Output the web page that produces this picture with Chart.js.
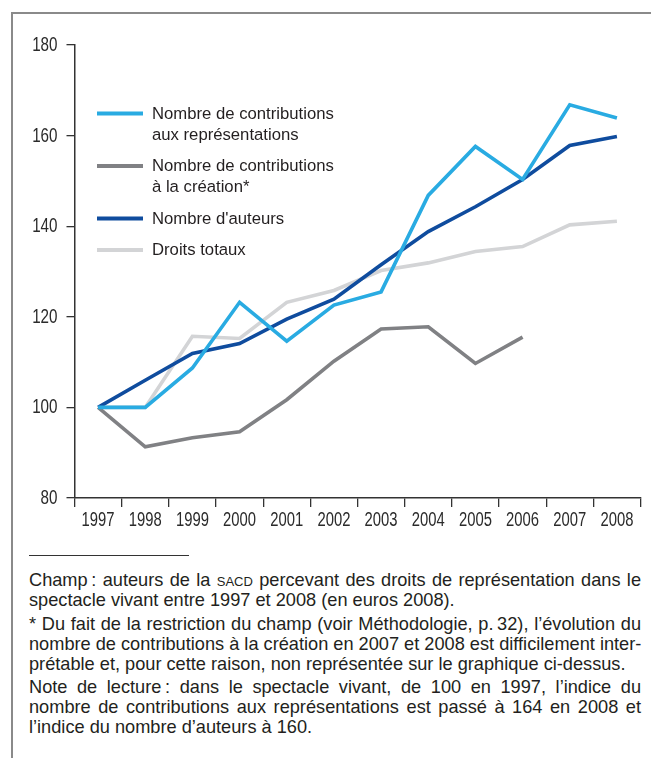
<!DOCTYPE html>
<html lang="fr">
<head>
<meta charset="utf-8">
<script src="https://cdn.jsdelivr.net/npm/chart.js@4/dist/chart.umd.min.js"></script>
<style>
    body { margin: 0; background: #fff; }
    #page { position: relative; width: 651px; height: 758px; overflow: hidden; background: #fff; }
    #frameLeft { position: absolute; left: 11px; top: 12px; width: 2px; height: 746px; background: #8a8a8a; }
    #frameTop { position: absolute; left: 11px; top: 12px; width: 640px; height: 2px; background: #8a8a8a; }
    #chartCanvas { position: absolute; left: 0; top: 0; }
    #rule { position: absolute; left: 29px; top: 555px; width: 160px; height: 1px; background: #333; }
    #notes { position: absolute; left: 29px; top: 570px; width: 612px;
             font-family: 'Liberation Sans', Arial, Helvetica, sans-serif; font-size: 18.2px;
             line-height: 20px; color: #231f20; }
    #notes p { margin: 0 0 3.5px 0; }
    #notes .l { white-space: nowrap; text-align: justify; text-align-last: justify; }
    #notes .e { white-space: nowrap; text-align: left; }
    .sc { font-variant: small-caps; }
</style>
</head>
<body>
<div id="page">
    <div id="frameLeft"></div>
    <div id="frameTop"></div>
    <canvas id="chartCanvas" width="651" height="540"></canvas>
    <div id="rule"></div>
    <div id="notes">
        <p>
            <span class="l" style="display:block">Champ&#8239;: auteurs de la <span class="sc">sacd</span> percevant des droits de représentation dans le</span>
            <span class="e" style="display:block">spectacle vivant entre 1997 et 2008 (en euros 2008).</span>
        </p>
        <p>
            <span class="l" style="display:block">* Du fait de la restriction du champ (voir Méthodologie, p.&#8239;32), l’évolution du</span>
            <span class="l" style="display:block">nombre de contributions à la création en 2007 et 2008 est difficilement inter-</span>
            <span class="e" style="display:block">prétable et, pour cette raison, non représentée sur le graphique ci-dessus.</span>
        </p>
        <p>
            <span class="l" style="display:block">Note de lecture&#8239;: dans le spectacle vivant, de 100 en 1997, l’indice du</span>
            <span class="l" style="display:block">nombre de contributions aux représentations est passé à 164 en 2008 et</span>
            <span class="e" style="display:block">l’indice du nombre d’auteurs à 160.</span>
        </p>
    </div>
</div>
<script>
// Years on the x axis
const years = ['1997', '1998', '1999', '2000', '2001', '2002', '2003', '2004', '2005', '2006', '2007', '2008'];

// Index values (base 100 in 1997)
const contributionsRepresentations = [100, 100, 108.7, 123.2, 114.6, 122.6, 125.5, 146.8, 157.6, 150.3, 166.8, 163.9];
const contributionsCreation = [100, 91.3, 93.3, 94.6, 101.7, 110.2, 117.3, 117.8, 109.7, 115.5, null, null];
const nombreAuteurs = [100, 106, 111.9, 114.1, 119.5, 123.9, 131.5, 138.8, 144.3, 150.3, 157.8, 159.8];
const droitsTotaux = [100, 100, 115.7, 115.2, 123.2, 125.8, 130.2, 131.9, 134.4, 135.5, 140.3, 141.1];

// Legend labels (each entry is a list of lines)
const seriesLabels = [
    ['Nombre de contributions', 'aux représentations'],
    ['Nombre de contributions', 'à la création*'],
    ["Nombre d'auteurs"],
    ['Droits totaux']
];

// Y axis range and step
const yMin = 80;
const yMax = 180;
const yStep = 20;

const colors = ['#29abe2', '#808184', '#0f4c9e', '#d3d4d6'];

// Tick labels are drawn condensed (no narrow font installed), at the scale's own pixels
const condensedTicks = {
    id: 'condensedTicks',
    afterDraw(chart) {
        const ctx = chart.ctx;
        const xs = chart.scales.x;
        const ys = chart.scales.y;
        ctx.save();
        ctx.font = "20px 'Liberation Sans', Arial, sans-serif";
        ctx.fillStyle = '#2b2b2b';
        ctx.textBaseline = 'middle';

        ctx.textAlign = 'center';
        xs.ticks.forEach((t, i) => {
            ctx.save();
            ctx.translate(xs.getPixelForTick(i), xs.top + 22.5);
            ctx.scale(0.74, 1);
            ctx.fillText(xs.getLabelForValue(t.value), 0, 0);
            ctx.restore();
        });

        ctx.textAlign = 'right';
        ys.ticks.forEach((t) => {
            ctx.save();
            ctx.translate(ys.right - 17, ys.getPixelForValue(t.value) + 0.5);
            ctx.scale(0.76, 1);
            ctx.fillText(t.label, 0, 0);
            ctx.restore();
        });
        ctx.restore();
    }
};

// Draws the multi-line legend inside the plot
const insideLegend = {
    id: 'insideLegend',
    afterDraw(chart) {
        const ctx = chart.ctx;
        let baseline = 118.5;
        ctx.save();
        ctx.font = "16.7px 'Liberation Sans', Arial, Helvetica, sans-serif";
        ctx.textBaseline = 'alphabetic';
        ctx.textAlign = 'left';
        seriesLabels.forEach((lines, i) => {
            ctx.strokeStyle = colors[i];
            ctx.lineWidth = 4;
            ctx.beginPath();
            ctx.moveTo(97, baseline - 5);
            ctx.lineTo(143, baseline - 5);
            ctx.stroke();
            ctx.fillStyle = '#231f20';
            lines.forEach((line, j) => {
                ctx.fillText(line, 152, baseline + j * 21);
            });
            baseline += (lines.length - 1) * 21 + 31.5;
        });
        ctx.restore();
    }
};

const seriesData = [contributionsRepresentations, contributionsCreation, nombreAuteurs, droitsTotaux];
const drawOrder = [0, 2, 1, 3];

const ctx = document.getElementById('chartCanvas').getContext('2d');
new Chart(ctx, {
    type: 'line',
    data: {
        labels: years,
        datasets: seriesData.map((values, i) => ({
            label: seriesLabels[i].join(' '),
            data: values,
            borderColor: colors[i],
            backgroundColor: colors[i],
            borderWidth: 3.6,
            borderJoinStyle: 'miter',
            borderCapStyle: 'butt',
            pointRadius: 0,
            tension: 0,
            spanGaps: false,
            order: drawOrder[i]
        }))
    },
    options: {
        responsive: false,
        devicePixelRatio: 1,
        animation: false,
        layout: { padding: { left: 0, right: 10.5, top: 45, bottom: 0 } },
        plugins: {
            legend: { display: false },
            tooltip: { enabled: false }
        },
        scales: {
            x: {
                offset: true,
                grid: { offset: true, drawOnChartArea: false, drawTicks: true, tickLength: 9, color: '#333', lineWidth: 1.3 },
                border: { display: true, color: '#333', width: 1.5 },
                ticks: { display: false, autoSkip: false },
                afterFit: function (axis) { axis.height = 42; }
            },
            y: {
                min: yMin,
                max: yMax,
                grid: { drawOnChartArea: false, drawTicks: true, tickLength: 8, color: '#333', lineWidth: 1.3 },
                border: { display: true, color: '#333', width: 1.5 },
                ticks: { display: false, stepSize: yStep },
                afterFit: function (axis) { axis.width = 74.5; }
            }
        }
    },
    plugins: [condensedTicks, insideLegend]
});
</script>
</body>
</html>
